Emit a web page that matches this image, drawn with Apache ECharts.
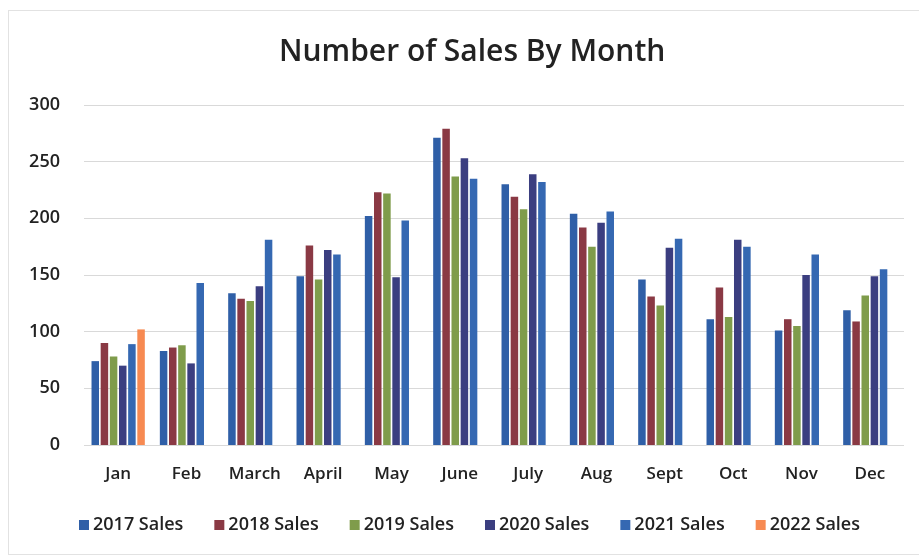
<!DOCTYPE html>
<html>
<head>
<meta charset="utf-8">
<script src="https://cdn.jsdelivr.net/npm/echarts@6/dist/echarts.min.js"></script>
<style>
  html, body { margin: 0; padding: 0; background: #ffffff; }
  #frame { position: absolute; left: 8px; top: 10px; width: 920px; height: 545px; border: 1px solid #e2e2e2; box-sizing: border-box; }
  #salesChart { position: absolute; left: 0; top: 0; width: 919px; height: 559px; }
</style>
</head>
<body>
<div id="frame"></div>
<div id="salesChart"></div>
<script>
const months = ["Jan", "Feb", "March", "April", "May", "June", "July", "Aug", "Sept", "Oct", "Nov", "Dec"];
const yTicks = [0, 50, 100, 150, 200, 250, 300];

const sales2017 = [74, 83, 134, 149, 202, 271, 230, 204, 146, 111, 101, 119];
const sales2018 = [90, 86, 129, 176, 223, 279, 219, 192, 131, 139, 111, 109];
const sales2019 = [78, 88, 127, 146, 222, 237, 208, 175, 123, 113, 105, 132];
const sales2020 = [70, 72, 140, 172, 148, 253, 239, 196, 174, 181, 150, 149];
const sales2021 = [89, 143, 181, 168, 198, 235, 232, 206, 182, 175, 168, 155];
const sales2022 = [102, null, null, null, null, null, null, null, null, null, null, null];

const seriesNames = ["2017 Sales", "2018 Sales", "2019 Sales", "2020 Sales", "2021 Sales", "2022 Sales"];
const seriesColors = ["#2f5fa7", "#8a3944", "#7f9c4b", "#3b3e80", "#3568b2", "#f78a52"];
const seriesData = [sales2017, sales2018, sales2019, sales2020, sales2021, sales2022];

const font = "'Open Sans', Lato, sans-serif";

const chart = echarts.init(document.getElementById("salesChart"));
chart.setOption({
  backgroundColor: "transparent",
  animation: false,
  title: {
    text: "Number of Sales By Month",
    left: 274,
    top: 32,
    textStyle: { fontFamily: font, fontSize: 30, fontWeight: 600, color: "#222222" },
  },
  legend: {
    bottom: 20,
    left: 74,
    itemWidth: 10,
    itemHeight: 10,
    itemGap: 31,
    icon: "rect",
    textStyle: { fontFamily: font, fontSize: 18, fontWeight: 600, color: "#222222", padding: [0, 0, 0, -1] },
    data: seriesNames,
  },
  grid: { left: 84, right: 15, top: 105, bottom: 114 },
  xAxis: {
    type: "category",
    data: months,
    axisTick: { show: false },
    axisLine: { show: false },
    axisLabel: { interval: 0, fontFamily: font, fontSize: 17, fontWeight: 600, color: "#222222", margin: 21 },
  },
  yAxis: {
    type: "value",
    min: yTicks[0],
    max: yTicks[yTicks.length - 1],
    interval: 50,
    axisLabel: { fontFamily: font, fontSize: 18, fontWeight: 600, color: "#222222", margin: 24 },
    splitLine: { lineStyle: { color: "#d9d9d9", width: 1 } },
  },
  series: seriesNames.map((name, i) => ({
    name: name,
    type: "bar",
    data: seriesData[i],
    barGap: "22%",
    barCategoryGap: "22%",
    itemStyle: { color: seriesColors[i] },
  })),
});
</script>
</body>
</html>
